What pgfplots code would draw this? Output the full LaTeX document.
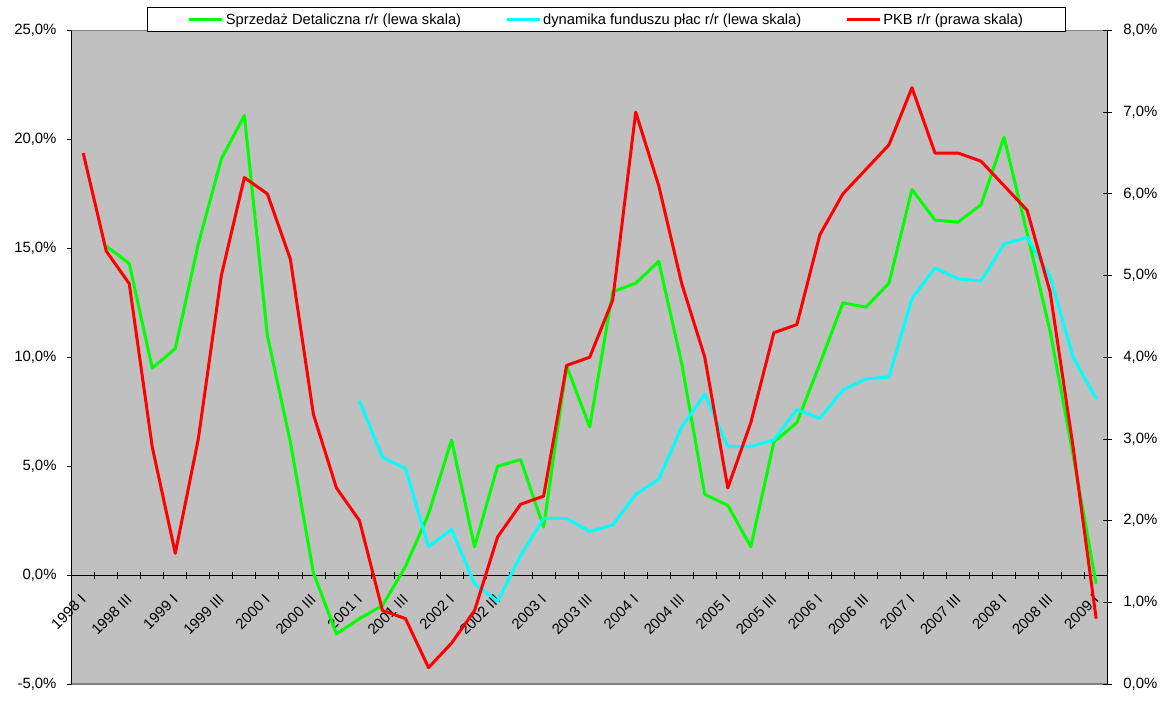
\documentclass[border=0pt]{standalone}
\usepackage{fontspec}
\setmainfont{Liberation Sans}
\usepackage{pgfplots}
\pgfplotsset{compat=1.18}
\definecolor{plotgray}{RGB}{192,192,192}
\definecolor{bordergray}{RGB}{128,128,128}
\definecolor{lgreen}{RGB}{0,255,0}
\definecolor{lcyan}{RGB}{0,255,255}
\definecolor{lred}{RGB}{255,0,0}
\pgfplotsset{base/.style={scale only axis, width=1036pt, height=653.5pt,
  at={(71.7pt,27pt)}, anchor=south west, xmin=-0.5, xmax=44.5,
  font=\fontsize{14.9}{17}\selectfont}}
\begin{document}
\begin{tikzpicture}[x=1pt,y=1pt]
\path[use as bounding box] (0,0) rectangle (1169,711);
% main axis: background, x axis at 0, left-scale series
\begin{axis}[base, ymin=-5, ymax=25,
  axis background/.style={fill=plotgray, draw=bordergray, line width=1.5pt},
  axis x line=middle, axis y line=none,
  x axis line style={-, black, line width=0.8pt},
  hide obscured x ticks=false,
  xtick={0,2,...,44},
  xticklabels={1998 I, 1998 III, 1999 I, 1999 III, 2000 I, 2000 III, 2001 I, 2001 III, 2002 I, 2002 III, 2003 I, 2003 III, 2004 I, 2004 III, 2005 I, 2005 III, 2006 I, 2006 III, 2007 I, 2007 III, 2008 I, 2008 III, 2009 I},
  major tick length=0pt,
  minor xtick={-0.5,0.5,...,44.5}, minor tick length=7pt, tick align=center,
  minor tick style={black, line width=0.8pt},
  xticklabel style={rotate=45, anchor=east, inner sep=0pt},
  xticklabel shift=22pt,
]
\addplot[lgreen, line width=3pt, line join=round] coordinates {
(1,15.1) (2,14.3) (3,9.5) (4,10.4) (5,15.2) (6,19.1) (7,21.1) (8,11.0) (9,6.1) (10,0.1)
(11,-2.7) (12,-2.0) (13,-1.4) (14,0.4) (15,2.8) (16,6.2) (17,1.3) (18,5.0) (19,5.3) (20,2.2)
(21,9.6) (22,6.8) (23,13.0) (24,13.4) (25,14.4) (26,9.7) (27,3.7) (28,3.2) (29,1.3) (30,6.1)
(31,7.0) (32,9.7) (33,12.5) (34,12.3) (35,13.4) (36,17.7) (37,16.3) (38,16.2) (39,17.0) (40,20.1)
(41,15.7) (42,11.2) (43,5.5) (44,-0.4)};
\addplot[lcyan, line width=3pt, line join=round] coordinates {
(12,8.0) (13,5.4) (14,4.9) (15,1.3) (16,2.1) (17,-0.4) (18,-1.2) (19,0.9) (20,2.6)
(21,2.6) (22,2.0) (23,2.3) (24,3.7) (25,4.4) (26,6.8) (27,8.3) (28,5.9) (29,5.9) (30,6.2)
(31,7.6) (32,7.2) (33,8.5) (34,9.0) (35,9.1) (36,12.7) (37,14.1) (38,13.6) (39,13.5) (40,15.2)
(41,15.5) (42,13.7) (43,10.0) (44,8.1)};
\end{axis}
% left y axis
\begin{axis}[base, ymin=-5, ymax=25,
  axis x line=none, axis y line=left,
  y axis line style={-, black, line width=0.8pt},
  ytick={-5,0,5,10,15,20,25},
  yticklabels={{-5,0\%},{0,0\%},{5,0\%},{10,0\%},{15,0\%},{20,0\%},{25,0\%}},
  tick align=outside, major tick length=5pt,
  major tick style={black, line width=0.8pt},
  yticklabel style={inner sep=0pt, xshift=-10pt},
]
\end{axis}
% right y axis with GDP
\begin{axis}[base, ymin=0, ymax=8,
  axis x line=none, axis y line=right,
  y axis line style={-, black, line width=0.8pt},
  ytick={0,1,2,3,4,5,6,7,8},
  yticklabels={{0,0\%},{1,0\%},{2,0\%},{3,0\%},{4,0\%},{5,0\%},{6,0\%},{7,0\%},{8,0\%}},
  tick align=center, major tick length=9pt,
  major tick style={black, line width=0.8pt},
  yticklabel style={inner sep=0pt, xshift=11pt},
  legend columns=3,
  legend image code/.code={\draw[#1] (0pt,0pt) -- (33pt,0pt);},
  legend style={at={(0.5162,1.0168)}, anchor=center, draw=black, fill=white,
    line width=0.8pt, inner xsep=40pt, inner ysep=4pt,
    /tikz/every even column/.append style={column sep=42pt},
    font=\fontsize{14.7}{17}\selectfont},
]
\addlegendimage{lgreen, line width=3pt}
\addlegendentry{Sprzedaż Detaliczna r/r (lewa skala)}
\addlegendimage{lcyan, line width=3pt}
\addlegendentry{dynamika funduszu płac r/r (lewa skala)}
\addplot[lred, line width=3pt, line join=round] coordinates {
(0,6.5) (1,5.3) (2,4.9) (3,2.9) (4,1.6) (5,3.0) (6,5.0) (7,6.2) (8,6.0) (9,5.2)
(10,3.3) (11,2.4) (12,2.0) (13,0.9) (14,0.8) (15,0.2) (16,0.5) (17,0.9) (18,1.8) (19,2.2)
(20,2.3) (21,3.9) (22,4.0) (23,4.7) (24,7.0) (25,6.1) (26,4.9) (27,4.0) (28,2.4) (29,3.2)
(30,4.3) (31,4.4) (32,5.5) (33,6.0) (34,6.3) (35,6.6) (36,7.3) (37,6.5) (38,6.5) (39,6.4)
(40,6.1) (41,5.8) (42,4.8) (43,2.9) (44,0.8)};
\addlegendentry{PKB r/r (prawa skala)}
\end{axis}
\end{tikzpicture}
\end{document}
